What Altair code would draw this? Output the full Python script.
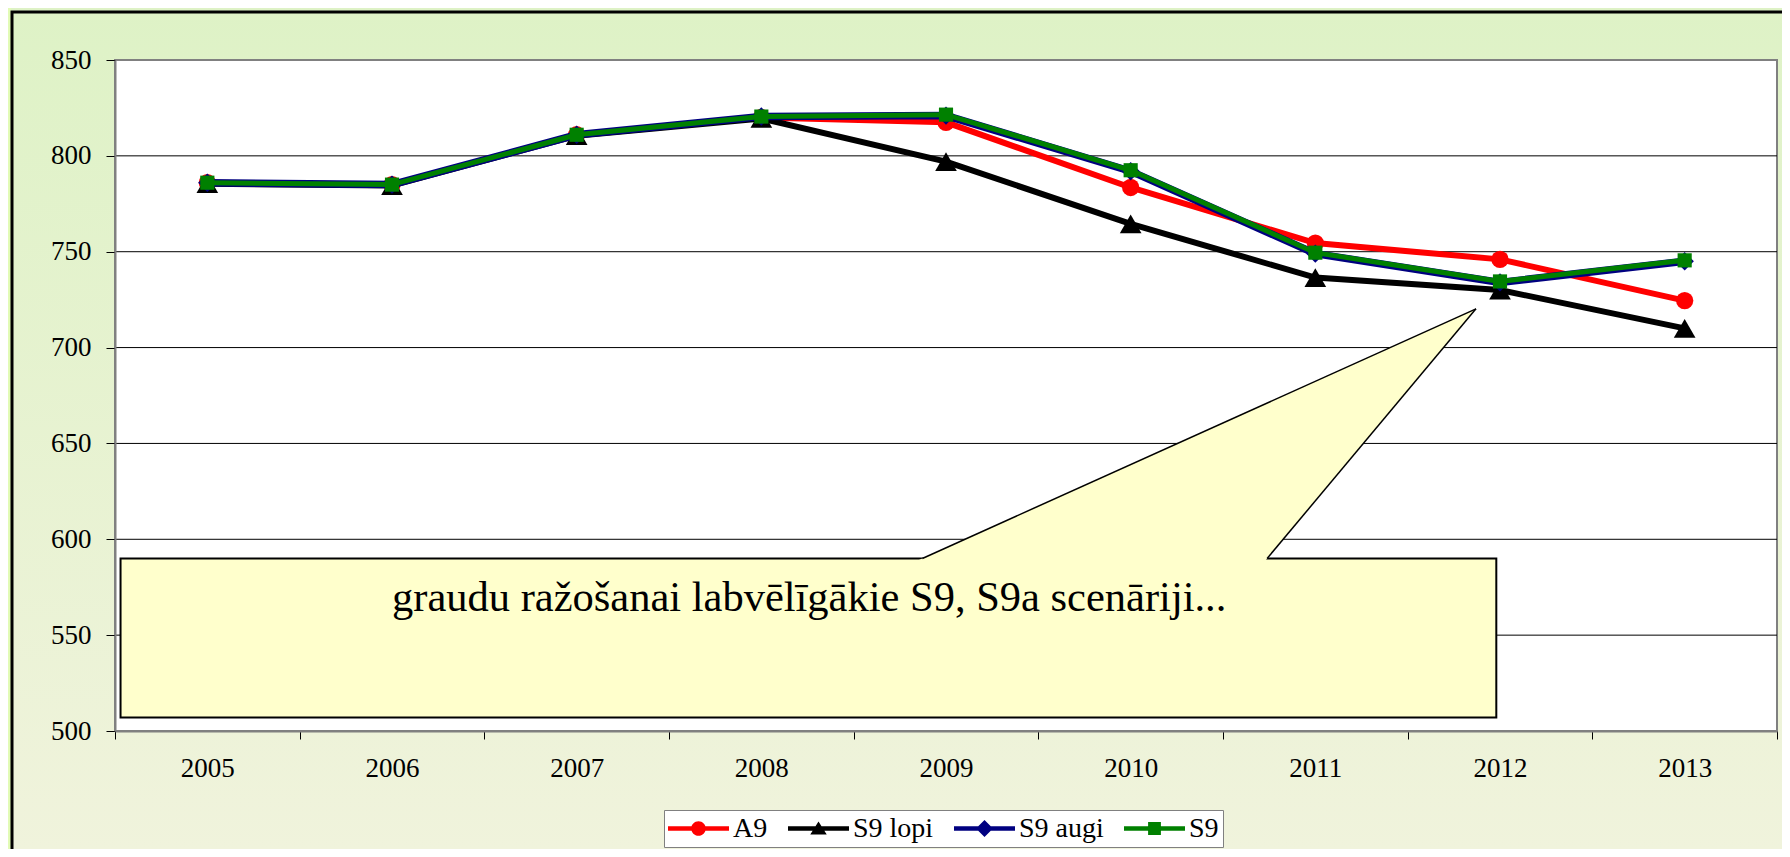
import altair as alt
import pandas as pd

# ---------------- data ----------------
years = [2005, 2006, 2007, 2008, 2009, 2010, 2011, 2012, 2013]
a9 = [786, 785, 811, 820, 817.5, 783.5, 754.5, 746, 724.5]
s9_lopi = [785.5, 784.5, 810.5, 819.5, 797, 764.5, 736.5, 730, 710]
s9_augi = [786, 785, 811, 820.5, 821, 792, 749, 734, 745]
s9 = [786, 785, 811, 820.5, 821.5, 792.5, 749.5, 734.5, 745.5]

series_names = ["A9", "S9 lopi", "S9 augi", "S9"]
series_values = [a9, s9_lopi, s9_augi, s9]
series_colors = ["#FF0000", "#000000", "#000080", "#008000"]
series_shapes = ["circle", "triangle-up", "diamond", "square"]
series_marker_sizes = [300, 470, 340, 200]
series_line_widths = [6, 6, 7.5, 5]

y_ticks = [500, 550, 600, 650, 700, 750, 800, 850]
grid_values = [550, 600, 650, 700, 750, 800]
x_domain = [2004.5, 2013.5]
y_domain = [500, 850]
x_tick_values = sorted(years + [y - 0.5 for y in years] + [2013.5])

callout_text = "graudu ražošanai labvēlīgākie S9, S9a scenāriji..."
# callout geometry in data units
box = {"x": 2004.53, "x2": 2011.98, "y": 590, "y2": 507}
pointer_base_left = (2008.872, 590)
pointer_base_right = (2010.739, 590)
pointer_tip = (2011.87, 720.2)
text_pos = (2006.0, 562.5)

# legend symbols: line + marker (unit coordinates)
line_path = "M-1,-0.075H1V0.075H-1Z"
legend_paths = [
    line_path + "M0.24,0A0.24,0.24,0,1,1,-0.24,0A0.24,0.24,0,1,1,0.24,0Z",
    line_path + "M0,-0.23L0.27,0.2L-0.27,0.2Z",
    line_path + "M-0.28,0L0,-0.28L0.28,0L0,0.28Z",
    line_path + "M-0.21,-0.21H0.21V0.21H-0.21Z",
]

# ---------------- tables ----------------
rows = []
for name, vals in zip(series_names, series_values):
    for yr, v in zip(years, vals):
        rows.append({"year": yr, "value": v, "series": name})
df = pd.DataFrame(rows)

one = pd.DataFrame({"k": [0]})

W, H = 1662, 671
FONT = "Liberation Serif"

xscale = alt.Scale(domain=x_domain, nice=False, zero=False)
yscale = alt.Scale(domain=y_domain, nice=False, zero=False)

xaxis = alt.Axis(
    values=x_tick_values,
    labelExpr="datum.value % 1 === 0 ? format(datum.value, 'd') : ''",
    tickOpacity={"condition": {"test": "datum.value % 1 === 0", "value": 0}, "value": 1},
    tickSize=8, tickColor="#000000", tickWidth=1,
    domainColor="#808080", domainWidth=2,
    labelFont=FONT, labelFontSize=27, labelColor="#000000", labelPadding=16,
    labelOverlap=False, labelFlush=False, grid=False, title=None, zindex=1,
)
yaxis = alt.Axis(
    values=y_ticks,
    tickSize=9, tickColor="#000000", tickWidth=1,
    domainColor="#808080", domainWidth=2,
    labelFont=FONT, labelFontSize=27, labelColor="#000000", labelPadding=15,
    labelOverlap=False, labelFlush=False, grid=False, title=None, zindex=1,
)


def X(field):
    return alt.X(field, type="quantitative", scale=xscale, axis=xaxis)


def Y(field):
    return alt.Y(field, type="quantitative", scale=yscale, axis=yaxis)


layers = []

# outer background (gradient) and frame
bg = alt.Chart(one).mark_rect(
    fill=alt.Gradient(
        gradient="linear",
        stops=[alt.GradientStop(color="#DEF2C6", offset=0),
               alt.GradientStop(color="#F0F3DC", offset=1)],
        x1=0, x2=0, y1=0, y2=1,
    )
).encode(x=alt.value(-107), x2=alt.value(W + 10), y=alt.value(-52), y2=alt.value(H + 120))
strip = alt.Chart(one).mark_rect(fill="#E2FBB6").encode(
    x=alt.value(-107), x2=alt.value(-104), y=alt.value(-52), y2=alt.value(H + 120))
frame = alt.Chart(one).mark_rect(fill="#000000", fillOpacity=0, stroke="#000000", strokeWidth=3).encode(
    x=alt.value(-103), x2=alt.value(W + 40), y=alt.value(-48), y2=alt.value(H + 160))
layers += [bg, strip, frame]

# plot area
plot_df = pd.DataFrame({"x": [x_domain[0]], "x2": [x_domain[1]], "y": [y_domain[0]], "y2": [y_domain[1]]})
plot_rect = alt.Chart(plot_df).mark_rect(fill="#FFFFFF", stroke="#808080", strokeWidth=2).encode(
    x=X("x"), x2="x2", y=Y("y"), y2="y2")
grid = alt.Chart(pd.DataFrame({"g": grid_values})).mark_rule(color="#000000", strokeWidth=1).encode(y=Y("g"))
layers += [plot_rect, grid]

# callout
box_df = pd.DataFrame([box])
callout_box = alt.Chart(box_df).mark_rect(fill="#FFFFCC", stroke="#000000", strokeWidth=2).encode(
    x=X("x"), x2="x2", y=Y("y"), y2="y2")
# triangle pointer (slightly extended below the box top to cover its border)
ext = 2.5
sl = (pointer_tip[0] - pointer_base_left[0]) / (pointer_tip[1] - pointer_base_left[1])
sr = (pointer_tip[0] - pointer_base_right[0]) / (pointer_tip[1] - pointer_base_right[1])
tri_df = pd.DataFrame({
    "y": [pointer_base_left[1] - ext, pointer_tip[1]],
    "xa": [pointer_base_left[0] - sl * ext, pointer_tip[0]],
    "xb": [pointer_base_right[0] - sr * ext, pointer_tip[0]],
})
tri = alt.Chart(tri_df).mark_area(orient="horizontal", fill="#FFFFCC", fillOpacity=1, strokeWidth=0).encode(
    y=Y("y"), x=X("xa"), x2="xb")
edges_df = pd.DataFrame({
    "x": [pointer_base_left[0], pointer_base_right[0]],
    "y": [pointer_base_left[1], pointer_base_right[1]],
    "x2": [pointer_tip[0], pointer_tip[0]],
    "y2": [pointer_tip[1], pointer_tip[1]],
})
edges = alt.Chart(edges_df).mark_rule(color="#000000", strokeWidth=1.5).encode(
    x=X("x"), y=Y("y"), x2="x2", y2="y2")
text_df = pd.DataFrame({"x": [text_pos[0]], "y": [text_pos[1]], "t": [callout_text]})
label = alt.Chart(text_df).mark_text(
    align="left", baseline="alphabetic", font=FONT, fontSize=42.5, color="#000000").encode(
    x=X("x"), y=Y("y"), text="t:N")
layers += [callout_box, tri, edges, label]

# series
for name, col, shp, msz, lw in zip(series_names, series_colors, series_shapes,
                                   series_marker_sizes, series_line_widths):
    base = alt.Chart(df).transform_filter(alt.datum.series == name)
    ln = base.mark_line(color=col, strokeWidth=lw).encode(x=X("year"), y=Y("value"))
    pt = base.mark_point(shape=shp, filled=True, color=col, size=msz, opacity=1, strokeWidth=0).encode(
        x=X("year"), y=Y("value"))
    layers += [ln, pt]

# legend-only layer (no marks, legend from explicit scale domains)
leg = alt.Legend(
    title=None, orient="none", legendX=549, legendY=750, direction="horizontal",
    fillColor="#FFFFFF", strokeColor="#808080", padding=4,
    symbolSize=3721, symbolStrokeWidth=0, symbolOpacity=1, clipHeight=29,
    labelFont=FONT, labelFontSize=28, labelColor="#000000", labelOffset=4,
    columnPadding=20, labelLimit=300,
)
legend_layer = alt.Chart(df).transform_filter("false").mark_point(filled=True).encode(
    x=X("year"), y=Y("value"),
    color=alt.Color("series:N", scale=alt.Scale(domain=series_names, range=series_colors), legend=leg),
    shape=alt.Shape("series:N", scale=alt.Scale(domain=series_names, range=legend_paths), legend=leg),
)
layers.append(legend_layer)

chart = alt.layer(*layers).properties(
    width=W, height=H,
    padding={"left": 107, "top": 52, "right": 5, "bottom": 118},
    autosize="none",
    background="#EEF2DA",
).configure_view(stroke=None)

chart.save("out.html", embed_options={"renderer": "svg", "actions": False})
